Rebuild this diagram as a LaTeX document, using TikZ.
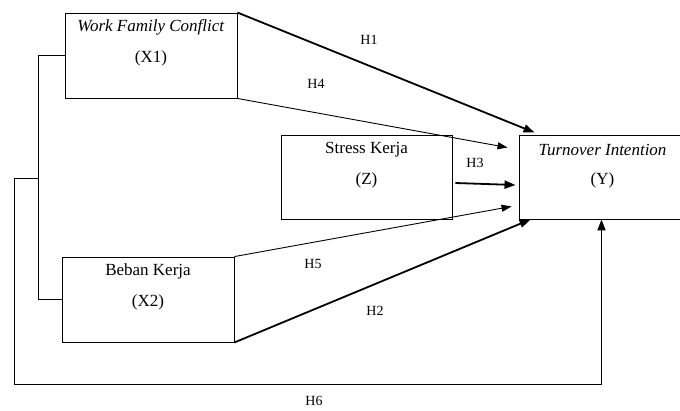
\documentclass[tikz,border=0pt]{standalone}
\usepackage{fontspec}
\setmainfont{Liberation Serif}
\usetikzlibrary{calc,arrows.meta}
\tikzstyle{var}=[draw, line width=0.9pt, minimum width=172pt, minimum height=85pt, inner sep=0pt]
\tikzstyle{vtext}=[font=\fontsize{17}{20}\selectfont, inner sep=0pt]
\tikzstyle{hyp}=[font=\fontsize{14}{16}\selectfont, inner sep=0pt]
\tikzstyle{thin}=[line width=0.9pt, -{Triangle[length=10pt,width=7pt]}]
\tikzstyle{thick}=[line width=1.8pt, -{Triangle[length=11pt,width=8pt]}]
\def\firstln{15}
\def\secondln{46}

\begin{document}
\begin{tikzpicture}[x=1pt,y=-1pt]
	\useasboundingbox (0,0) rectangle (680,410);

	\node (x1) [var] at (151,55.5) {};
	\node (x2) [var] at (148,299.5) {};
	\node (z) [var, minimum width=171pt, minimum height=84pt] at (366.5,177) {};
	\node (yv) [var, minimum width=171pt, minimum height=84pt] at (604.5,177) {};

	% texts inside the boxes
	\node [vtext] at ($(x1.north)+(0,\firstln)$) {\textit{Work Family Conflict}};
	\node [vtext] at ($(x1.north)+(0,\secondln)$) {(X1)};
	\node [vtext] at ($(x2.north)+(0,\firstln)$) {Beban Kerja};
	\node [vtext] at ($(x2.north)+(0,\secondln)$) {(X2)};
	\node [vtext] at ($(z.north)+(0,\firstln)$) {Stress Kerja};
	\node [vtext] at ($(z.north)+(0,\secondln)$) {(Z)};
	\node [vtext] at ($(yv.north)+(-2,\firstln)$) {\textit{Turnover Intention}};
	\node [vtext] at ($(yv.north)+(-2,\secondln)$) {(Y)};

	% arrow ends
	\coordinate (h1) at ($(yv.north west)+(16,-2)$);
	\coordinate (h4) at ($(yv.north west)+(-11,13)$);
	\coordinate (h3a) at ($(z.east)+(3,6)$);
	\coordinate (h3b) at ($(yv.west)+(-3,8)$);
	\coordinate (h5) at ($(yv.south west)+(-7,-13)$);
	\coordinate (h2) at ($(yv.south west)+(12,0)$);
	\coordinate (h6) at ($(yv.south)+(-3,0)$);

	\draw [thick] (x1.north east) -- (h1);
	\draw [thin] (x1.south east) -- (h4);
	\draw [thick] (h3a) -- (h3b);
	\draw [thin] (x2.north east) -- (h5);
	\draw [thick] (x2.south east) -- (h2);

	% correlation bracket and outer path
	\draw [line width=0.9pt] (x1.west) -- ++(-26,0) |- (x2.west);
	\coordinate (brk) at (39,178);
	\coordinate (low) at (14,384);
	\draw [line width=0.9pt] (brk) -- (brk -| low) -- (low) -- (low -| h6);
	\draw [thick] ($(low -| h6)+(0,0.45)$) -- (h6);

	\node [hyp] at (369,40) {H1};
	\node [hyp] at (316,84) {H4};
	\node [hyp] at (475,163) {H3};
	\node [hyp] at (313,264) {H5};
	\node [hyp] at (375,311) {H2};
	\node [hyp] at (314,401) {H6};
\end{tikzpicture}
\end{document}
